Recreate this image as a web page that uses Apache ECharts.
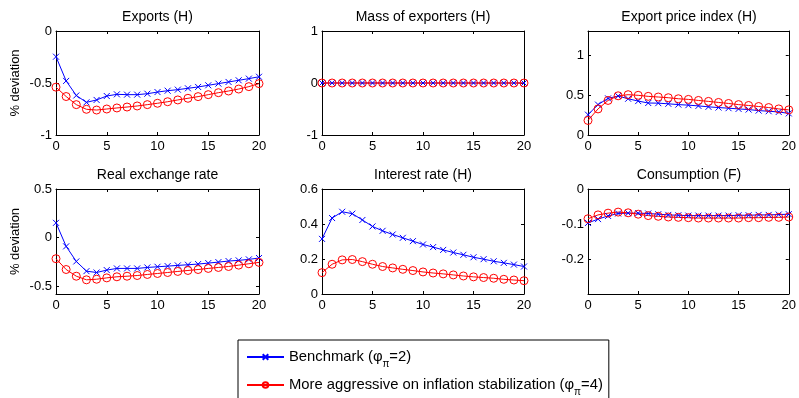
<!DOCTYPE html>
<html>
<head>
<meta charset="utf-8">
<script src="https://cdn.jsdelivr.net/npm/echarts@6/dist/echarts.min.js"></script>
<style>
html, body { margin: 0; padding: 0; background: #fff; }
#main { width: 799px; height: 398px; }
</style>
</head>
<body>
<div id="main"></div>
<script>
// horizon (quarters)
var periods = [0, 1, 2, 3, 4, 5, 6, 7, 8, 9, 10, 11, 12, 13, 14, 15, 16, 17, 18, 19, 20];
var xTicks = [0, 5, 10, 15, 20];

// Exports (H)
var exportsBench = [-0.247, -0.48, -0.62, -0.686, -0.663, -0.625, -0.609, -0.612, -0.612, -0.603, -0.587, -0.574, -0.564, -0.551, -0.538, -0.522, -0.506, -0.49, -0.474, -0.458, -0.44];
var exportsAggr = [-0.54, -0.63, -0.708, -0.753, -0.76, -0.75, -0.74, -0.731, -0.721, -0.708, -0.695, -0.68, -0.663, -0.647, -0.631, -0.612, -0.593, -0.577, -0.558, -0.535, -0.506];

// Mass of exporters (H)
var massBench = [0, 0, 0, 0, 0, 0, 0, 0, 0, 0, 0, 0, 0, 0, 0, 0, 0, 0, 0, 0, 0];
var massAggr = [0, 0, 0, 0, 0, 0, 0, 0, 0, 0, 0, 0, 0, 0, 0, 0, 0, 0, 0, 0, 0];

// Export price index (H)
var priceBench = [0.254, 0.38, 0.458, 0.487, 0.453, 0.424, 0.40, 0.398, 0.39, 0.38, 0.373, 0.364, 0.352, 0.343, 0.335, 0.326, 0.318, 0.305, 0.297, 0.288, 0.27];
var priceAggr = [0.182, 0.326, 0.432, 0.49, 0.504, 0.496, 0.483, 0.475, 0.466, 0.453, 0.445, 0.432, 0.42, 0.407, 0.394, 0.38, 0.369, 0.356, 0.343, 0.326, 0.314];

// Real exchange rate
var rerBench = [0.152, -0.09, -0.245, -0.345, -0.359, -0.334, -0.317, -0.317, -0.317, -0.307, -0.30, -0.293, -0.286, -0.279, -0.272, -0.262, -0.252, -0.241, -0.234, -0.224, -0.21];
var rerAggr = [-0.217, -0.328, -0.397, -0.434, -0.428, -0.414, -0.403, -0.397, -0.39, -0.379, -0.369, -0.359, -0.348, -0.338, -0.328, -0.317, -0.307, -0.297, -0.283, -0.269, -0.255];

// Interest rate (H)
var rateBench = [0.315, 0.434, 0.47, 0.459, 0.423, 0.386, 0.361, 0.34, 0.321, 0.302, 0.283, 0.268, 0.252, 0.237, 0.224, 0.21, 0.199, 0.187, 0.178, 0.168, 0.157];
var rateAggr = [0.122, 0.17, 0.195, 0.197, 0.185, 0.17, 0.157, 0.149, 0.141, 0.134, 0.126, 0.12, 0.115, 0.109, 0.103, 0.098, 0.094, 0.09, 0.084, 0.08, 0.076];

// Consumption (F)
var consBench = [-0.097, -0.086, -0.077, -0.07, -0.069, -0.069, -0.07, -0.072, -0.074, -0.075, -0.076, -0.076, -0.076, -0.076, -0.076, -0.075, -0.075, -0.074, -0.074, -0.073, -0.072];
var consAggr = [-0.085, -0.074, -0.069, -0.066, -0.068, -0.072, -0.076, -0.078, -0.08, -0.081, -0.082, -0.083, -0.083, -0.083, -0.083, -0.083, -0.082, -0.082, -0.081, -0.081, -0.08];

var panelTitles = ['Exports (H)', 'Mass of exporters (H)', 'Export price index (H)',
                   'Real exchange rate', 'Interest rate (H)', 'Consumption (F)'];
var yTickLists = [[-1, -0.5, 0], [-1, 0, 1], [0, 0.5, 1], [-0.5, 0, 0.5], [0, 0.2, 0.4, 0.6], [-0.2, -0.1, 0]];
var yRanges = [[-1, 0], [-1, 1], [0, 1.3], [-0.58, 0.5], [0, 0.6], [-0.3, 0]];
var benchData = [exportsBench, massBench, priceBench, rerBench, rateBench, consBench];
var aggrData = [exportsAggr, massAggr, priceAggr, rerAggr, rateAggr, consAggr];

var FONT = '"Liberation Sans", Arial, Helvetica, sans-serif';
var cols = [[56, 203], [322, 202], [588, 202]];
var rows = [[31, 104], [189, 105]];
var crossPath = 'path://M0,0L10,10M10,0L0,10';

var chart = echarts.init(document.getElementById('main'), null, {renderer: 'canvas'});

var grids = [], xAxes = [], yAxes = [], series = [], titles = [];

for (var i = 0; i < 6; i++) {
    var c = cols[i % 3], r = rows[Math.floor(i / 3)];
    grids.push({left: c[0], top: r[0], width: c[1], height: r[1], containLabel: false});

    titles.push({
        text: panelTitles[i],
        left: c[0] + c[1] / 2,
        top: r[0] - 21,
        textAlign: 'center',
        padding: 0,
        textStyle: {fontSize: 14, fontWeight: 'normal', color: '#000', fontFamily: FONT}
    });

    ['bottom', 'top'].forEach(function (pos) {
        xAxes.push({
            type: 'value', gridIndex: i, position: pos, min: 0, max: 20,
            axisLine: {show: true, onZero: false, lineStyle: {color: '#000', width: 1}},
            axisTick: {show: true, inside: true, length: 3, customValues: xTicks, lineStyle: {color: '#000'}},
            axisLabel: {show: pos === 'bottom', customValues: xTicks, color: '#000', fontSize: 13, margin: 5, fontFamily: FONT},
            splitLine: {show: false}
        });
    });

    ['left', 'right'].forEach(function (pos) {
        var y = {
            type: 'value', gridIndex: i, position: pos, min: yRanges[i][0], max: yRanges[i][1],
            axisLine: {show: true, onZero: false, lineStyle: {color: '#000', width: 1}},
            axisTick: {show: true, inside: true, length: 3, customValues: yTickLists[i], lineStyle: {color: '#000'}},
            axisLabel: {show: pos === 'left', customValues: yTickLists[i], color: '#000', fontSize: 13, margin: 4, fontFamily: FONT},
            splitLine: {show: false}
        };
        if (pos === 'left' && i % 3 === 0) {
            y.name = '% deviation';
            y.nameLocation = 'middle';
            y.nameGap = 34;
            y.nameTextStyle = {fontSize: 13, color: '#000', fontFamily: FONT};
        }
        yAxes.push(y);
    });

    series.push({
        type: 'line', name: 'bench', xAxisIndex: 2 * i, yAxisIndex: 2 * i,
        data: periods.map(function (p, k) { return [p, benchData[i][k]]; }),
        symbol: crossPath, symbolSize: 6,
        lineStyle: {color: '#0000ff', width: 1},
        itemStyle: {color: '#0000ff', borderColor: '#0000ff', borderWidth: 1},
        emphasis: {disabled: true}
    });
    series.push({
        type: 'line', name: 'aggr', xAxisIndex: 2 * i, yAxisIndex: 2 * i,
        data: periods.map(function (p, k) { return [p, aggrData[i][k]]; }),
        symbol: 'circle', symbolSize: 8,
        lineStyle: {color: '#ff0000', width: 1},
        itemStyle: {color: 'rgba(255,255,255,0)', borderColor: '#ff0000', borderWidth: 1},
        emphasis: {disabled: true}
    });
}

var option = {
    animation: false,
    backgroundColor: '#fff',
    title: titles,
    grid: grids,
    xAxis: xAxes,
    yAxis: yAxes,
    legend: {
        data: ['bench', 'aggr'],
        orient: 'vertical',
        left: 238, top: 340, height: 80,
        padding: [5, 6, 14, 8],
        itemWidth: 37, itemHeight: 7, itemGap: 4,
        borderColor: '#000', borderWidth: 1,
        backgroundColor: '#fff',
        selectedMode: false,
        formatter: function (name) {
            return name === 'bench'
                ? 'Benchmark (\u03c6{sub|\u03c0}=2)'
                : 'More aggressive on inflation stabilization (\u03c6{sub|\u03c0}=4)';
        },
        textStyle: {
            fontSize: 14.8, lineHeight: 16, color: '#000', fontFamily: FONT,
            rich: {sub: {fontSize: 10, lineHeight: 16, color: '#000', fontFamily: FONT, padding: [14, 0, 0, 0]}}
        }
    },
    series: series
};

if (option && typeof option === 'object') {
    chart.setOption(option);
}
</script>
</body>
</html>
